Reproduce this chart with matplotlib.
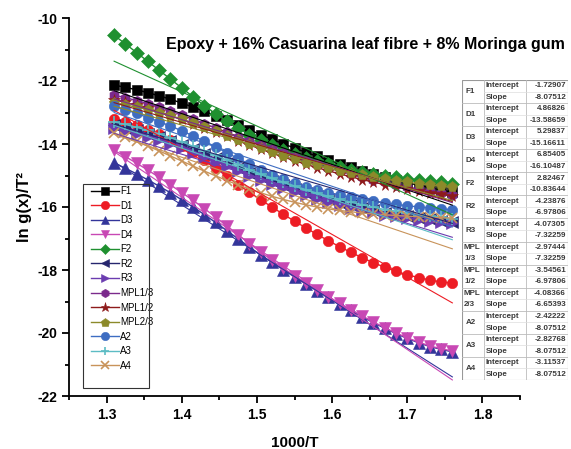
import matplotlib
matplotlib.use('Agg')
import matplotlib.pyplot as plt
from matplotlib.ticker import MultipleLocator, FormatStrFormatter

plt.rcParams['font.family'] = ['Liberation Sans', 'DejaVu Sans']
plt.rcParams['axes.unicode_minus'] = False

# 1000/T values of the measured points
inv_t = [1.310, 1.325, 1.340, 1.355, 1.370, 1.385, 1.400, 1.415, 1.430, 1.445,
         1.460, 1.475, 1.490, 1.505, 1.520, 1.535, 1.550, 1.565, 1.580, 1.595,
         1.610, 1.625, 1.640, 1.655, 1.670, 1.685, 1.700, 1.715, 1.730, 1.745, 1.760]

names = ['F1', 'D1', 'D3', 'D4', 'F2', 'R2', 'R3', 'MPL1/3', 'MPL1/2', 'MPL2/3', 'A2', 'A3', 'A4']

f1 = [-12.13, -12.20, -12.28, -12.37, -12.47, -12.58, -12.70, -12.83, -12.96, -13.10,
      -13.25, -13.40, -13.55, -13.70, -13.85, -13.99, -14.13, -14.26, -14.39, -14.51,
      -14.63, -14.74, -14.85, -14.95, -15.05, -15.14, -15.23, -15.31, -15.39, -15.46, -15.53]
d1 = [-13.20, -13.30, -13.41, -13.54, -13.69, -13.86, -14.05, -14.26, -14.50, -14.76,
      -15.03, -15.29, -15.53, -15.77, -16.00, -16.23, -16.45, -16.66, -16.87, -17.07,
      -17.26, -17.44, -17.61, -17.77, -17.91, -18.04, -18.15, -18.24, -18.32, -18.38, -18.42]
d3 = [-14.60, -14.77, -14.95, -15.14, -15.34, -15.55, -15.77, -16.00, -16.24, -16.49,
      -16.75, -17.01, -17.27, -17.52, -17.76, -17.99, -18.22, -18.44, -18.66, -18.87,
      -19.08, -19.28, -19.48, -19.67, -19.85, -20.02, -20.17, -20.31, -20.43, -20.52, -20.60]
d4 = [-14.20, -14.40, -14.61, -14.83, -15.06, -15.30, -15.54, -15.79, -16.05, -16.32,
      -16.60, -16.88, -17.16, -17.43, -17.69, -17.94, -18.18, -18.41, -18.63, -18.85,
      -19.06, -19.26, -19.46, -19.65, -19.83, -20.00, -20.15, -20.29, -20.41, -20.50, -20.57]
f2 = [-10.55, -10.82, -11.10, -11.38, -11.66, -11.94, -12.22, -12.50, -12.78, -13.04,
      -13.28, -13.50, -13.70, -13.88, -14.04, -14.18, -14.31, -14.43, -14.54, -14.64,
      -14.73, -14.81, -14.88, -14.94, -15.00, -15.05, -15.10, -15.14, -15.18, -15.22, -15.26]
r2 = [-13.40, -13.48, -13.57, -13.67, -13.78, -13.90, -14.03, -14.17, -14.31, -14.46,
      -14.61, -14.76, -14.91, -15.05, -15.18, -15.31, -15.43, -15.55, -15.66, -15.76,
      -15.86, -15.95, -16.03, -16.11, -16.18, -16.24, -16.30, -16.35, -16.39, -16.43, -16.47]
r3 = [-13.50, -13.58, -13.67, -13.77, -13.88, -14.00, -14.13, -14.27, -14.41, -14.56,
      -14.71, -14.86, -15.00, -15.14, -15.27, -15.40, -15.52, -15.63, -15.74, -15.84,
      -15.93, -16.02, -16.10, -16.17, -16.24, -16.30, -16.35, -16.40, -16.44, -16.48, -16.52]
mpl13 = [-12.45, -12.53, -12.62, -12.72, -12.83, -12.95, -13.08, -13.21, -13.35, -13.49,
         -13.63, -13.77, -13.91, -14.04, -14.17, -14.30, -14.42, -14.54, -14.65, -14.76,
         -14.86, -14.96, -15.05, -15.14, -15.22, -15.30, -15.37, -15.44, -15.50, -15.56, -15.61]
mpl12 = [-12.60, -12.68, -12.77, -12.87, -12.98, -13.10, -13.22, -13.35, -13.48, -13.62,
         -13.76, -13.90, -14.03, -14.16, -14.29, -14.41, -14.53, -14.64, -14.75, -14.85,
         -14.95, -15.04, -15.13, -15.21, -15.29, -15.36, -15.43, -15.49, -15.55, -15.60, -15.65]
mpl23 = [-12.70, -12.76, -12.83, -12.91, -13.00, -13.10, -13.21, -13.33, -13.46, -13.60,
         -13.74, -13.88, -14.01, -14.14, -14.26, -14.38, -14.49, -14.59, -14.68, -14.77,
         -14.85, -14.92, -14.99, -15.05, -15.11, -15.16, -15.21, -15.26, -15.30, -15.34, -15.38]
a2 = [-12.80, -12.91, -13.03, -13.16, -13.29, -13.43, -13.58, -13.74, -13.91, -14.09,
      -14.28, -14.46, -14.64, -14.81, -14.97, -15.11, -15.24, -15.35, -15.45, -15.54,
      -15.62, -15.69, -15.76, -15.82, -15.87, -15.92, -15.96, -16.00, -16.03, -16.06, -16.09]
a3 = [-13.30, -13.38, -13.47, -13.57, -13.68, -13.80, -13.93, -14.07, -14.21, -14.36,
      -14.51, -14.66, -14.81, -14.95, -15.08, -15.21, -15.33, -15.45, -15.56, -15.66,
      -15.76, -15.85, -15.93, -16.01, -16.08, -16.14, -16.20, -16.25, -16.29, -16.33, -16.37]
a4 = [-13.65, -13.78, -13.92, -14.07, -14.22, -14.38, -14.54, -14.70, -14.86, -15.01,
      -15.16, -15.30, -15.43, -15.55, -15.66, -15.76, -15.85, -15.93, -16.00, -16.06,
      -16.11, -16.15, -16.19, -16.22, -16.25, -16.27, -16.29, -16.31, -16.33, -16.34, -16.35]

intercepts = [-1.72907, 4.86826, 5.29837, 6.85405, 2.82467, -4.23876, -4.07305,
              -2.97444, -3.54561, -4.08366, -2.42222, -2.82768, -3.11537]
slopes = [-8.07512, -13.58659, -15.16611, -16.10487, -10.83644, -6.97806, -7.32259,
          -7.32259, -6.97806, -6.65393, -8.07512, -8.07512, -8.07512]

series = [f1, d1, d3, d4, f2, r2, r3, mpl13, mpl12, mpl23, a2, a3, a4]
colors = ['#000000', '#ED1C24', '#33359A', '#C848B4', '#1F9030', '#26266E', '#6B3CB0',
          '#7B2A8C', '#8E1B1B', '#8C8A2A', '#3E6DC2', '#5CBCC4', '#C8935A']
markers = ['s', 'o', '^', 'v', 'D', '<', '>', 'h', '*', 'p', 'o', '+', 'x']
msizes = [7, 7.5, 8, 8, 7, 8, 8, 7.5, 8.5, 8, 7.5, 8, 7]

fig = plt.figure(figsize=(5.71, 4.49), dpi=100)
ax = fig.add_axes([69 / 571, 53 / 449, 451 / 571, 378 / 449])

handles = []
for name, ys, c, m, ms in zip(names, series, colors, markers, msizes):
    h, = ax.plot(inv_t, ys, color=c, marker=m, markersize=ms, lw=1.0,
                 markeredgewidth=1.2 if m in '+x' else 0.4,
                 markeredgecolor=c, label=name)
    handles.append(h)

# linear fits from the table
x_fit = [inv_t[0], inv_t[-1]]
for b, k, c in zip(intercepts, slopes, colors):
    ax.plot(x_fit, [b + k * x for x in x_fit], color=c, lw=0.8)

ax.set_xlim(1.25, 1.85)
ax.set_ylim(-22, -10)
ax.xaxis.set_major_locator(MultipleLocator(0.1))
ax.xaxis.set_minor_locator(MultipleLocator(0.05))
ax.yaxis.set_major_locator(MultipleLocator(2))
ax.yaxis.set_minor_locator(MultipleLocator(1))
ax.xaxis.set_major_formatter(FormatStrFormatter('%.1f'))
for s in ['top', 'right']:
    ax.spines[s].set_visible(False)
for s in ['left', 'bottom']:
    ax.spines[s].set_linewidth(1.3)
ax.tick_params(which='major', direction='out', length=5, width=1.3, labelsize=10)
ax.tick_params(which='minor', direction='out', length=3, width=1.3)
for lab in ax.get_xticklabels() + ax.get_yticklabels():
    lab.set_fontweight('bold')

ax.set_xlabel('1000/T', fontsize=11, fontweight='bold', labelpad=10)
ax.set_ylabel('ln g(x)/T²', fontsize=12, fontweight='bold', labelpad=4)

# legend without its own frame; the frame is a plain rectangle so text may run to its edge
leg = ax.legend(handles=handles, loc='upper left',
                bbox_to_anchor=(91 / 571, 1 - 186 / 449), bbox_transform=fig.transFigure,
                fontsize=7, frameon=False, borderpad=0, borderaxespad=0,
                handlelength=2.9, labelspacing=0.47, handletextpad=0.1, markerscale=0.8)
fig.patches.append(plt.Rectangle((83 / 571, 1 - 388 / 449), 66 / 571, 204 / 449,
                                 transform=fig.transFigure, facecolor='none',
                                 edgecolor='#333333', lw=0.8, zorder=5))

fig.text(365 / 571, 1 - 44 / 449, 'Epoxy + 16% Casuarina leaf fibre + 8% Moringa gum',
         ha='center', va='center', fontsize=11.5, fontweight='bold')

# parameter table, drawn in pixel units of its own axes
tw, th = 106, 300
tax = fig.add_axes([462 / 571, 1 - 380 / 449, tw / 571, th / 449])
tax.set_xlim(0, tw)
tax.set_ylim(th, 0)
tax.axis('off')
tax.add_patch(plt.Rectangle((0, 0), tw, th, facecolor='white', edgecolor='#999999', lw=0.8))
rh = th / 26
c1, c2 = 22, 64
tcol = '#3A3A3A'
fs = 5.8
tax.plot([c1, c1], [0, th], color='#BBBBBB', lw=0.6)
tax.plot([c2, c2], [0, th], color='#BBBBBB', lw=0.6)
for i, (name, b, k) in enumerate(zip(names, intercepts, slopes)):
    y0 = 2 * i * rh
    if i > 0:
        tax.plot([0, tw], [y0, y0], color='#BBBBBB', lw=0.6)
    tax.plot([c1, tw], [y0 + rh, y0 + rh], color='#DDDDDD', lw=0.5)
    if name.startswith('MPL'):
        tax.text(2, y0 + rh / 2, 'MPL', fontsize=fs, fontweight='bold', va='center', color=tcol)
        tax.text(2, y0 + 1.5 * rh, name[3:], fontsize=fs, fontweight='bold', va='center', color=tcol)
    else:
        tax.text(4, y0 + rh, name, fontsize=fs, fontweight='bold', va='center', color=tcol)
    tax.text(c1 + 2, y0 + rh / 2, 'Intercept', fontsize=fs, fontweight='bold', va='center', color=tcol)
    tax.text(c1 + 2, y0 + 1.5 * rh, 'Slope', fontsize=fs, fontweight='bold', va='center', color=tcol)
    tax.text(tw - 2, y0 + rh / 2, '%.5f' % b, fontsize=fs, fontweight='bold', va='center', ha='right', color=tcol)
    tax.text(tw - 2, y0 + 1.5 * rh, '%.5f' % k, fontsize=fs, fontweight='bold', va='center', ha='right', color=tcol)

fig.savefig('out.png', dpi=100)
